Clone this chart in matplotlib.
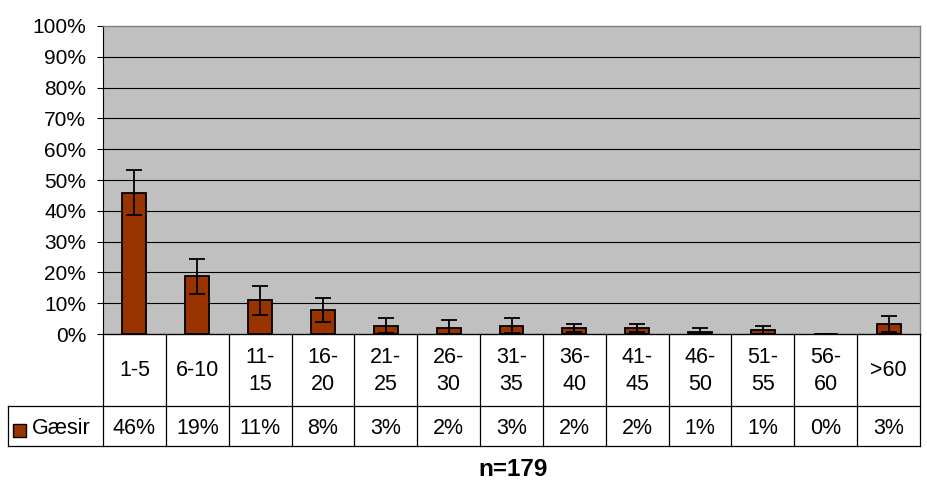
import numpy as np
import matplotlib
matplotlib.use('Agg')
import matplotlib.pyplot as plt
from matplotlib.patches import Rectangle

plt.rcParams['font.family'] = ['Liberation Sans', 'DejaVu Sans']

# data
categories = ['1-5', '6-10', '11-\n15', '16-\n20', '21-\n25', '26-\n30', '31-\n35',
              '36-\n40', '41-\n45', '46-\n50', '51-\n55', '56-\n60', '>60']
values = [45.8, 18.7, 10.9, 7.9, 2.7, 2.0, 2.7, 1.9, 1.9, 0.8, 1.2, 0.0, 3.3]
errors = [7.3, 5.8, 4.6, 3.9, 2.4, 2.4, 2.4, 1.4, 1.4, 1.0, 1.3, 0.0, 2.5]
value_labels = ['46%', '19%', '11%', '8%', '3%', '2%', '3%', '2%', '2%', '1%', '1%', '0%', '3%']
series_name = 'Gæsir'
note = 'n=179'

bar_color = '#993300'
fs = 15
fs_tab = 15.5

W, H = 927, 480
fig = plt.figure(figsize=(W / 100, H / 100), dpi=100)
left, right, top, bottom = 103, 920, 26, 334
ax = fig.add_axes([left / W, 1 - bottom / H, (right - left) / W, (bottom - top) / H])
ax.set_facecolor('#C0C0C0')

x = np.arange(len(categories))
ax.bar(x, values, width=0.38, color=bar_color, edgecolor='black', linewidth=1.3, zorder=3)
ax.errorbar(x, values, yerr=errors, fmt='none', ecolor='black', elinewidth=1.3,
            capsize=5.5, capthick=1.3, zorder=4)

ax.set_xlim(-0.5, len(categories) - 0.5)
ax.set_ylim(0, 100)
ax.set_yticks(range(0, 101, 10))
ax.set_yticklabels([f'{t}%' for t in range(0, 101, 10)], fontsize=fs)
ax.tick_params(axis='y', direction='out', length=4, width=0.8, pad=8)
ax.set_xticks([])
for t in range(10, 100, 10):
    ax.axhline(t, color='black', linewidth=0.8, zorder=2)
for s in ['top', 'right']:
    ax.spines[s].set_color('#808080')
    ax.spines[s].set_linewidth(1.0)
ax.spines['left'].set_color('black')
ax.spines['bottom'].set_color('black')

# data table below the plot, laid out in pixels
col_w = (right - left) / len(categories)


def fy(py):
    # pixel (from top) -> figure fraction
    return 1 - py / H


def fx(px):
    return px / W


lines_kw = dict(color='black', linewidth=0.9, transform=fig.transFigure, clip_on=False)
fig.add_artist(plt.Line2D([fx(left), fx(right)], [fy(bottom), fy(bottom)], **lines_kw))
fig.add_artist(plt.Line2D([fx(8), fx(right)], [fy(406), fy(406)], **lines_kw))
fig.add_artist(plt.Line2D([fx(8), fx(right)], [fy(446), fy(446)], **lines_kw))
fig.add_artist(plt.Line2D([fx(8), fx(8)], [fy(406), fy(446)], **lines_kw))
for i in range(len(categories) + 1):
    px = left + i * col_w
    fig.add_artist(plt.Line2D([fx(px), fx(px)], [fy(bottom), fy(446)], **lines_kw))

for i, (cat, lab) in enumerate(zip(categories, value_labels)):
    cx = left + (i + 0.5) * col_w
    fig.text(fx(cx), fy((bottom + 406) / 2 + 1), cat, ha='center', va='center',
             fontsize=fs_tab, linespacing=1.4)
    fig.text(fx(cx), fy(428), lab, ha='center', va='center', fontsize=fs_tab)

# legend key in the table
fig.add_artist(Rectangle((fx(13), fy(437)), 13 / W, 13 / H, facecolor=bar_color,
                         edgecolor='black', linewidth=1.0, transform=fig.transFigure))
fig.text(fx(32), fy(428), series_name, ha='left', va='center', fontsize=fs_tab)

fig.text(fx(513), fy(470), note, ha='center', va='center', fontsize=17.5, fontweight='bold')

fig.savefig('out.png', dpi=100, facecolor='white')
